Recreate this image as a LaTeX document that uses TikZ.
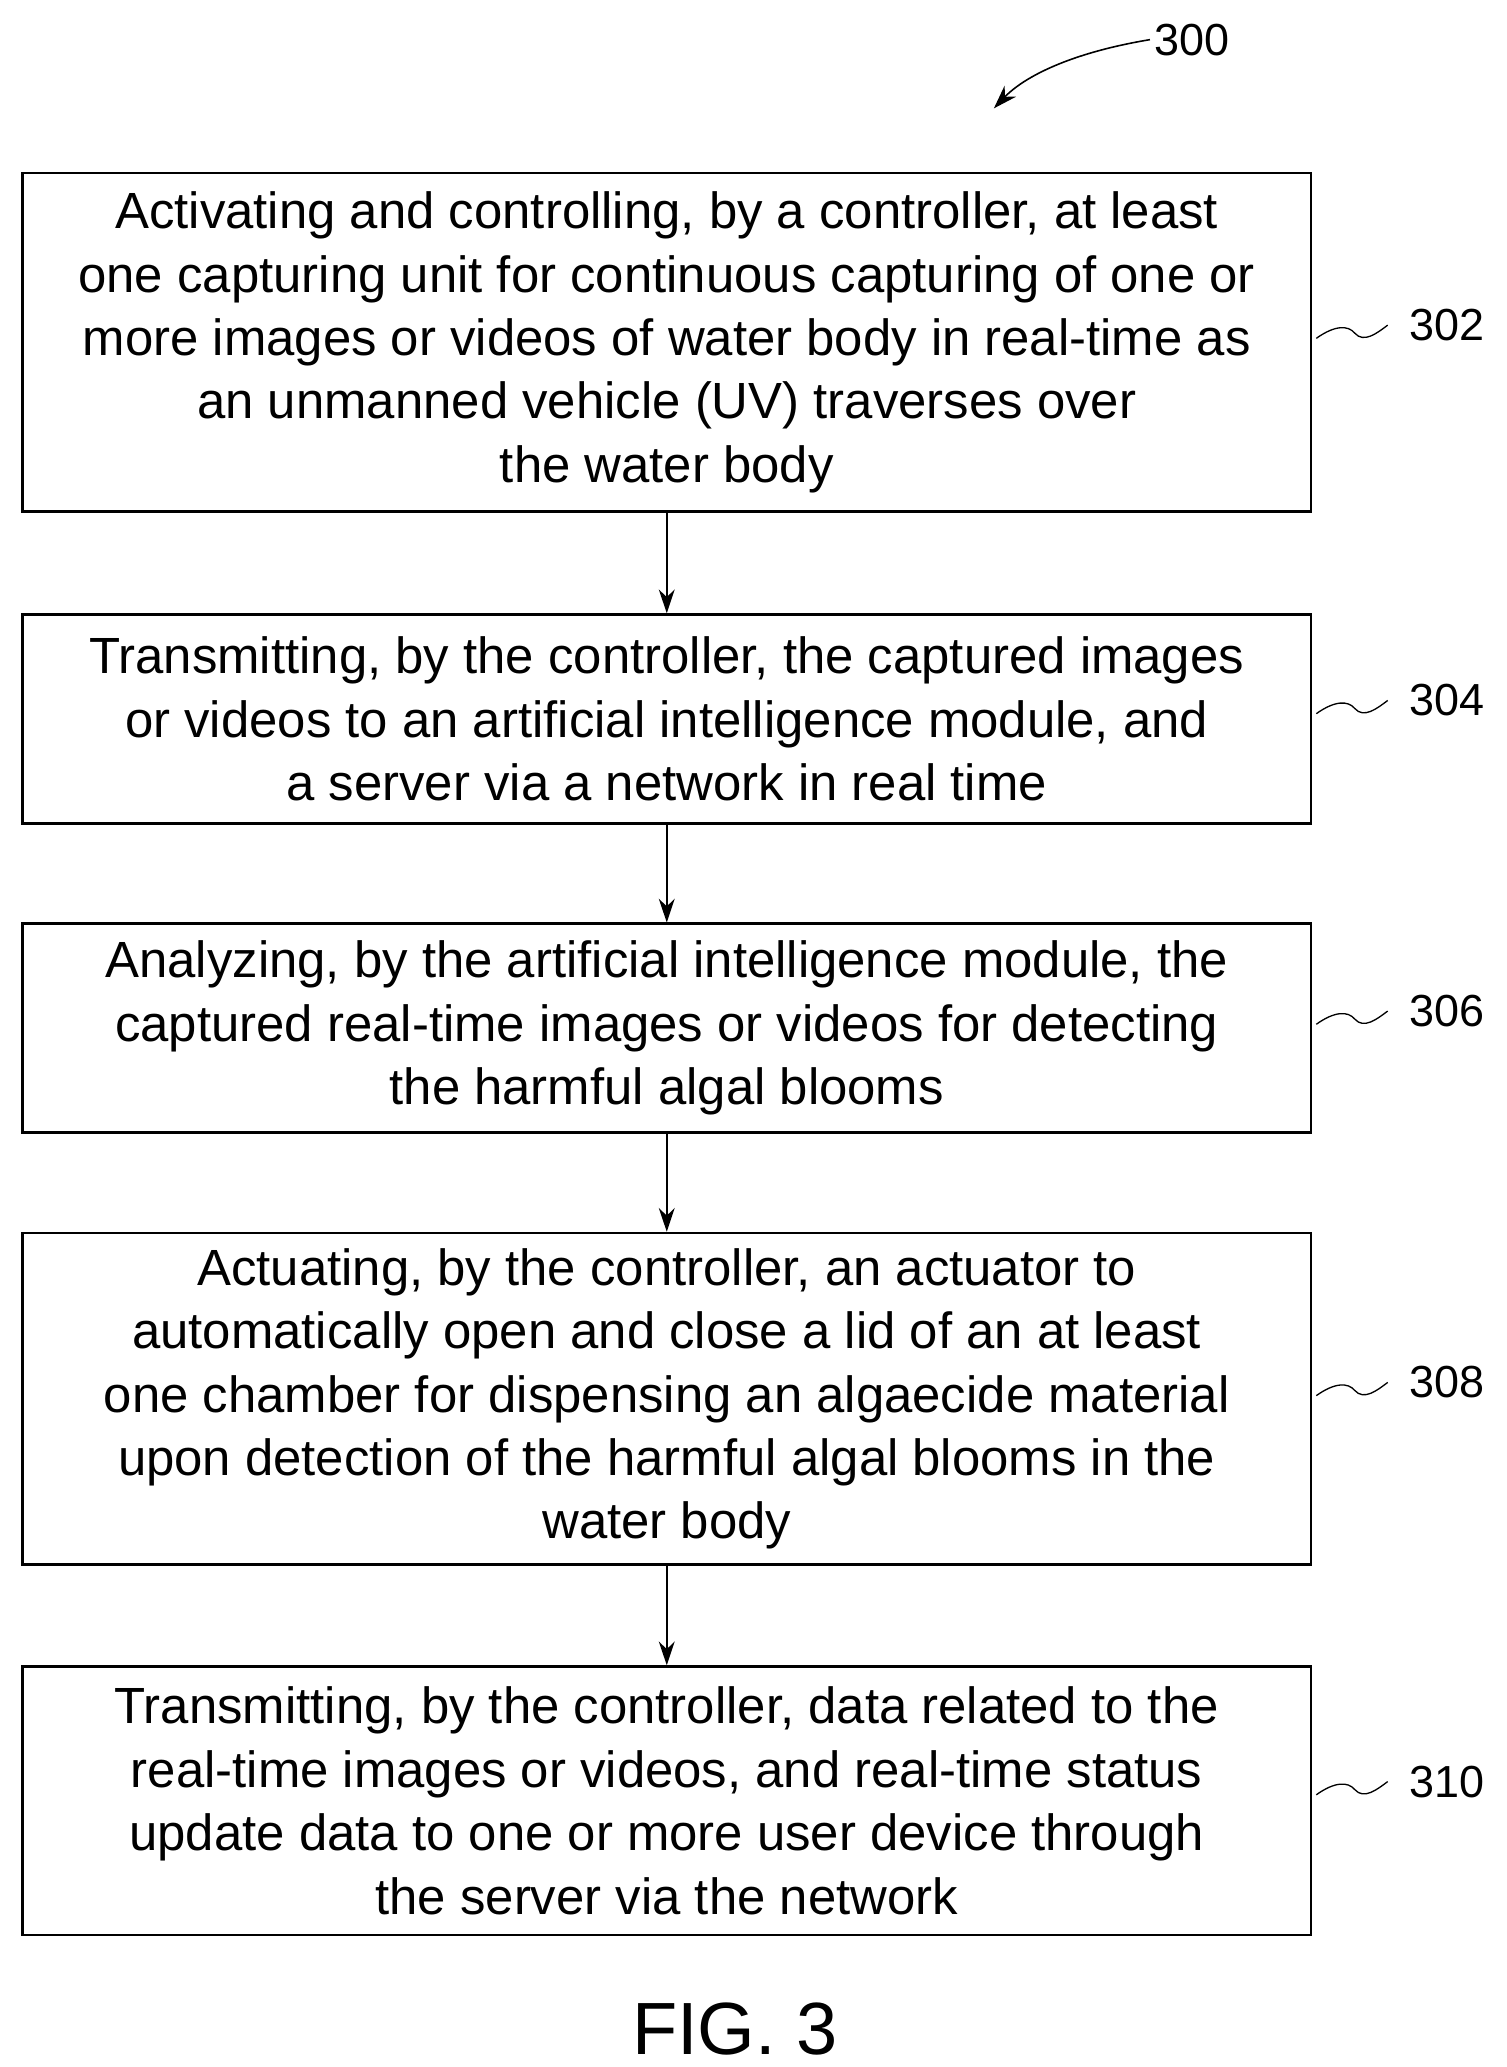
\documentclass[tikz,border=0pt]{standalone}
\usepackage{fontspec}
\setmainfont{Liberation Sans}
\usetikzlibrary{arrows.meta}
\begin{document}
\begin{tikzpicture}[x=1pt,y=-1pt,
  box/.style={draw,line width=2pt,minimum width=975pt,inner sep=0pt,align=center,font=\fontsize{38.5}{48}\selectfont},
  arr/.style={-{Stealth[length=18pt,width=12pt]},line width=1.5pt},
  lab/.style={font=\fontsize{34}{40}\selectfont},
  sq/.style={line width=1pt}]
\useasboundingbox (0,0) rectangle (1140,1564);
\node[box,minimum height=256pt] (b1) at (504.5,259) {Activating and controlling, by a controller, at least\\one capturing unit for continuous capturing of one or\\more images or videos of water body in real-time as\\an unmanned vehicle (UV) traverses over\\the water body};
\node[box,minimum height=158pt] (b2) at (504.5,544) {Transmitting, by the controller, the captured images\\or videos to an artificial intelligence module, and\\a server via a network in real time};
\node[box,minimum height=158pt] (b3) at (504.5,778) {Analyzing, by the artificial intelligence module, the\\captured real-time images or videos for detecting\\the harmful algal blooms};
\node[box,minimum height=251pt] (b4) at (504.5,1058.5) {Actuating, by the controller, an actuator to\\automatically open and close a lid of an at least\\one chamber for dispensing an algaecide material\\upon detection of the harmful algal blooms in the\\water body};
\node[box,minimum height=203pt] (b5) at (504.5,1362.5) {Transmitting, by the controller, data related to the\\real-time images or videos, and real-time status\\update data to one or more user device through\\the server via the network};
\draw[arr] (b1.south) -- (b2.north);
\draw[arr] (b2.south) -- (b3.north);
\draw[arr] (b3.south) -- (b4.north);
\draw[arr] (b4.south) -- (b5.north);
\foreach \n/\y/\t in {b1/246/302,b2/530/304,b3/765/306,b4/1046/308,b5/1348/310}{
  \node[lab] (l\t) at (1095,\y) {\t};
  \draw[sq] (996,\y+10) .. controls (1010,\y) and (1020,\y) .. (1025,\y+6) .. controls (1032,\y+14) and (1042,\y+6) .. (1050,\y);
}
\node[lab] (l300) at (902,30) {300};
\coordinate (a300) at (752,82);
\draw[line width=1.2pt,-{Stealth[length=18pt,width=12pt]}] (l300.west) .. controls (810,40) and (775,58) .. (a300);
\node[font=\fontsize{56}{60}\selectfont] (fig) at (556,1535) {FIG. 3};
\end{tikzpicture}
\end{document}
